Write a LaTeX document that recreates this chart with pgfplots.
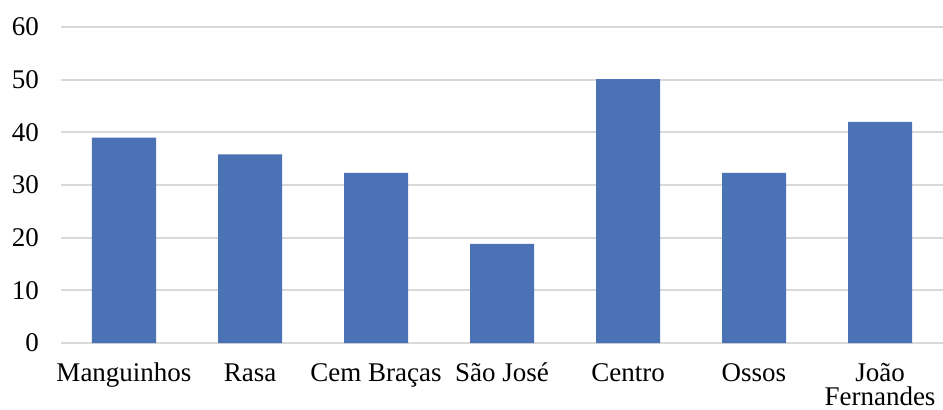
\documentclass[border=0pt]{standalone}
\usepackage{fontspec}
\setmainfont{Liberation Serif}
\usepackage{pgfplots}
\pgfplotsset{compat=1.18}
\definecolor{barblue}{HTML}{4A72B5}
\definecolor{gridgray}{HTML}{D9D9D9}
\newcommand\fs{\rule{0pt}{19bp}}
\begin{document}
\begin{tikzpicture}
\useasboundingbox (-61bp,-67bp) rectangle (882bp,343bp);
\begin{axis}[
  at={(0,0)}, anchor=south west,
  scale only axis, width=882bp, height=316bp,
  xmin=-0.5, xmax=6.5, ymin=0, ymax=60,
  ytick={0,10,...,60},
  xtick={0,...,6},
  xticklabels={{\fs Manguinhos}, {\fs Rasa}, {\fs Cem Braças}, {\fs São José}, {\fs Centro}, {\fs Ossos}, {\fs João\\Fernandes}},
  axis line style={draw=none},
  major tick length=0pt,
  ymajorgrids, grid style={gridgray, line width=2bp},
  /pgf/number format/assume math mode=true,
  tick label style={font=\fontsize{27bp}{24bp}\selectfont},
  yticklabel style={inner sep=0pt, xshift=-22bp},
  xticklabel style={inner sep=0pt, anchor=north, align=center, yshift=-19.5bp},
  ybar, bar width=64bp,
]
\addplot[fill=barblue, draw=none] coordinates {
  (0,39.0) (1,35.8) (2,32.3) (3,18.8) (4,50.1) (5,32.3) (6,42.0)
};
\end{axis}
\end{tikzpicture}
\end{document}
